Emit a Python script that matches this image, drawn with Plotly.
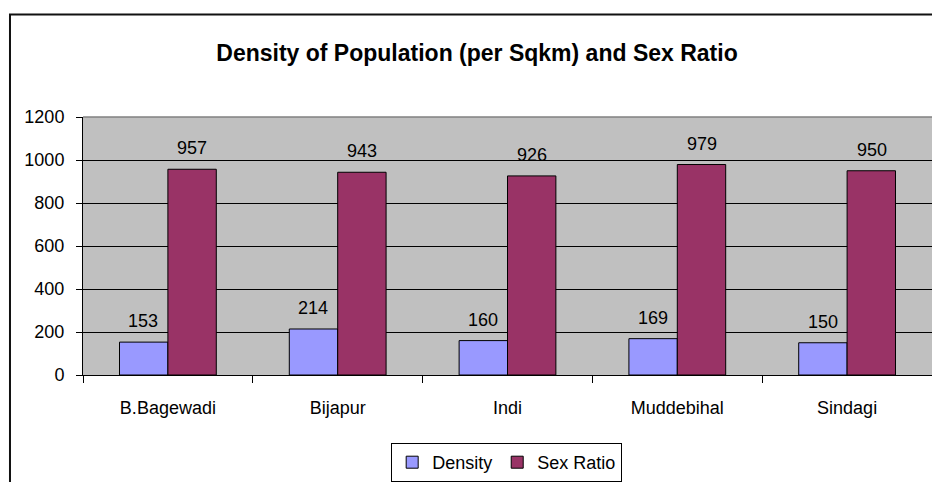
import plotly.graph_objects as go

categories = ["B.Bagewadi", "Bijapur", "Indi", "Muddebihal", "Sindagi"]
density = [153, 214, 160, 169, 150]
sex_ratio = [957, 943, 926, 979, 950]
y_ticks = [0, 200, 400, 600, 800, 1000, 1200]

FONT = "Liberation Sans, Arial, sans-serif"

fig = go.Figure()
fig.add_trace(go.Bar(name="Density", x=categories, y=density,
                     marker=dict(color="#9999FF", line=dict(color="black", width=1))))
fig.add_trace(go.Bar(name="Sex Ratio", x=categories, y=sex_ratio,
                     marker=dict(color="#993366", line=dict(color="black", width=1))))

annotations = []
for cat, d, s in zip(categories, density, sex_ratio):
    annotations.append(dict(x=cat, y=d, text=str(d), xref="x", yref="y", showarrow=False,
                            yanchor="bottom", xshift=-24.5, yshift=9,
                            font=dict(size=18, color="black", family=FONT)))
    annotations.append(dict(x=cat, y=s, text=str(s), xref="x", yref="y", showarrow=False,
                            yanchor="bottom", xshift=24.5, yshift=9,
                            font=dict(size=18, color="black", family=FONT)))

fig.update_layout(
    width=932, height=482,
    margin=dict(l=83, r=0, t=117, b=106),
    paper_bgcolor="white", plot_bgcolor="#C0C0C0",
    font=dict(family=FONT, size=18, color="black"),
    barmode="group", bargap=0.43, bargroupgap=0,
    title=dict(text="<b>Density of Population (per Sqkm) and Sex Ratio</b>",
               x=477 / 932, xref="container", xanchor="center",
               y=1 - 53 / 482, yref="container", yanchor="middle",
               font=dict(size=23, family=FONT, color="black")),
    showlegend=True,
    legend=dict(orientation="h", x=0.363, y=-0.266, xanchor="left", yanchor="top",
                bordercolor="black", borderwidth=1, bgcolor="white",
                font=dict(size=18, family=FONT), itemwidth=30,
                tracegroupgap=0),
    annotations=annotations,
    xaxis=dict(showline=True, linecolor="black", linewidth=1,
               ticks="outside", tickson="boundaries", ticklen=7, tickcolor="black",
               ticklabelstandoff=16, showgrid=False, fixedrange=True),
    yaxis=dict(range=[0, 1200], tickvals=y_ticks, showline=True, linecolor="black",
               linewidth=1, ticks="outside", ticklen=6, tickcolor="black",
               ticklabelstandoff=8, showgrid=True, gridcolor="black", gridwidth=1,
               zeroline=False, fixedrange=True),
    shapes=[
        dict(type="line", xref="paper", yref="paper", x0=0, x1=1.05, y0=1, y1=1,
             line=dict(color="#808080", width=1.5), layer="above"),
        dict(type="rect", xref="paper", yref="paper", x0=-0.086, x1=1.2,
             y0=-0.6, y1=1.3977, line=dict(color="#111", width=2), layer="above"),
    ],
)

fig.write_html("out.html")
